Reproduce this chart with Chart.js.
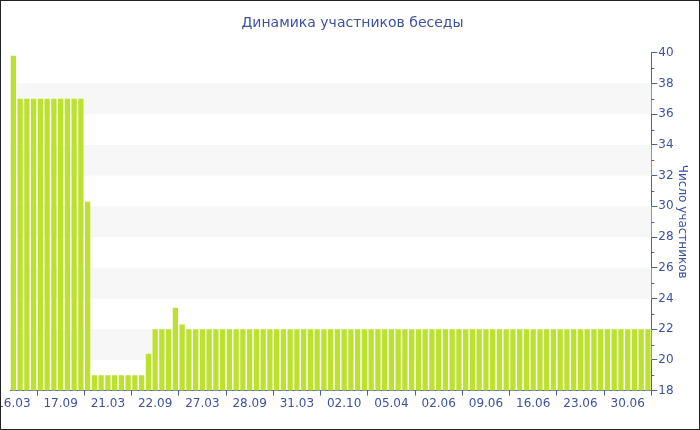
<!DOCTYPE html>
<html>
<head>
<meta charset="utf-8">
<script src="https://cdn.jsdelivr.net/npm/chart.js@4/dist/chart.umd.min.js"></script>
<style>
    html, body { margin: 0; padding: 0; background: #fff; }
    #wrap { width: 698px; height: 428px; border: 1px solid #222; position: relative; overflow: hidden; }
    canvas { display: block; }
</style>
</head>
<body>
<div id="wrap"><canvas id="chart" width="698" height="428"></canvas></div>
<script>
// подписи оси X (каждый 7-й столбец)
const tickLabels = ['16.03', '17.09', '21.03', '22.09', '27.03', '28.09', '31.03',
    '02.10', '05.04', '02.06', '09.06', '16.06', '23.06', '30.06'];

// число участников по периодам
const members = [
    39.8, 37, 37, 37, 37, 37, 37, 37, 37, 37, 37,
    30.3, 19, 19, 19, 19, 19, 19, 19, 19, 20.4,
    22, 22, 22, 23.4, 22.3,
    22, 22, 22, 22, 22, 22, 22, 22, 22, 22,
    22, 22, 22, 22, 22, 22, 22, 22, 22, 22,
    22, 22, 22, 22, 22, 22, 22, 22, 22, 22,
    22, 22, 22, 22, 22, 22, 22, 22, 22, 22,
    22, 22, 22, 22, 22, 22, 22, 22, 22, 22,
    22, 22, 22, 22, 22, 22, 22, 22, 22, 22,
    22, 22, 22, 22, 22, 22, 22, 22, 22
];

const categories = members.map((v, i) => i % 7 === 0 ? tickLabels[i / 7] : '');

const axisColor = '#4b5ea8';
const textColor = '#3d52a1';
const fontFamily = "'DejaVu Sans', Verdana, sans-serif";

// полосы фона и мелкие деления
const bandsPlugin = {
    id: 'bands',
    beforeDatasetsDraw(chart) {
        const { ctx, chartArea } = chart;
        const y = chart.scales.y;
        ctx.save();
        ctx.fillStyle = '#f7f7f7';
        for (let v = 20; v < 40; v += 4) {
            const top = y.getPixelForValue(v + 2);
            const bottom = y.getPixelForValue(v);
            ctx.fillRect(chartArea.left, top, chartArea.right - chartArea.left, bottom - top);
        }
        ctx.restore();
    },
    afterDraw(chart) {
        const { ctx } = chart;
        const y = chart.scales.y;
        ctx.save();
        ctx.strokeStyle = axisColor;
        ctx.lineWidth = 1;
        for (let v = 19; v < 40; v += 2) {
            const py = Math.round(y.getPixelForValue(v)) + 0.5;
            ctx.beginPath();
            ctx.moveTo(y.left, py);
            ctx.lineTo(y.left + 3, py);
            ctx.stroke();
        }
        ctx.restore();
    }
};

const ctx = document.getElementById('chart').getContext('2d');
new Chart(ctx, {
    type: 'bar',
    data: {
        labels: categories,
        datasets: [{
            data: members,
            backgroundColor: '#bde12f',
            borderWidth: 0,
            barPercentage: 0.78,
            categoryPercentage: 1
        }]
    },
    options: {
        responsive: false,
        animation: false,
        devicePixelRatio: 1,
        layout: { padding: { left: 9, right: 4, top: 4, bottom: 17 } },
        plugins: {
            legend: { display: false },
            tooltip: { enabled: false },
            title: {
                display: true,
                text: 'Динамика участников беседы',
                color: textColor,
                font: { family: fontFamily, size: 14, weight: 'normal' },
                padding: { top: 10, bottom: 21 }
            }
        },
        scales: {
            x: {
                offset: true,
                grid: { display: true, drawOnChartArea: false, tickLength: 5, color: axisColor },
                border: { color: axisColor },
                afterBuildTicks(scale) {
                    scale.ticks = scale.ticks.filter(t => t.value % 7 === 0);
                },
                afterFit(scale) {
                    scale.paddingLeft = 0;
                    scale.paddingRight = 0;
                },
                ticks: {
                    autoSkip: false,
                    maxRotation: 0,
                    color: textColor,
                    padding: 1,
                    font: { family: fontFamily, size: 12 }
                }
            },
            y: {
                position: 'right',
                min: 18,
                max: 40,
                grid: { display: true, drawOnChartArea: false, tickLength: 6, color: axisColor },
                border: { color: axisColor },
                ticks: {
                    stepSize: 2,
                    autoSkip: false,
                    color: textColor,
                    padding: 1,
                    font: { family: fontFamily, size: 12 }
                },
                title: {
                    display: true,
                    text: 'Число участников',
                    color: textColor,
                    font: { family: fontFamily, size: 12 },
                    padding: { top: 6, bottom: 0 }
                }
            }
        }
    },
    plugins: [bandsPlugin]
});
</script>
</body>
</html>
